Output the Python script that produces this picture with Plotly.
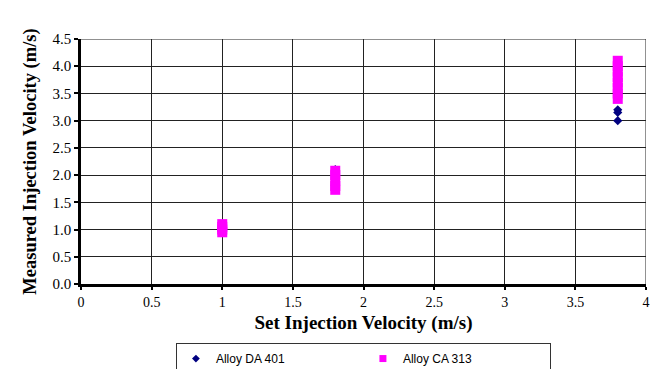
import plotly.graph_objects as go

# Alloy DA 401 measurements
da401_set = [1.8, 3.8, 3.8, 3.8]
da401_measured = [2.1, 3.0, 3.15, 3.2]

# Alloy CA 313 measurements
ca313_set = [1.0, 1.0, 1.0, 1.0,
             1.8, 1.8, 1.8, 1.8, 1.8,
             3.8, 3.8, 3.8, 3.8, 3.8, 3.8, 3.8, 3.8]
ca313_measured = [0.95, 1.0, 1.05, 1.1,
                  1.73, 1.8, 1.9, 2.0, 2.08,
                  3.4, 3.5, 3.6, 3.7, 3.8, 3.9, 4.0, 4.1]

x_ticks = [0, 0.5, 1, 1.5, 2, 2.5, 3, 3.5, 4]
x_tick_labels = ["0", "0.5", "1", "1.5", "2", "2.5", "3", "3.5", "4"]
y_ticks = [0, 0.5, 1, 1.5, 2, 2.5, 3, 3.5, 4, 4.5]
y_tick_labels = ["0.0", "0.5", "1.0", "1.5", "2.0", "2.5", "3.0", "3.5", "4.0", "4.5"]

serif = "Liberation Serif"
sans = "Liberation Sans"
navy = "#000080"
magenta = "#FF00FF"

fig = go.Figure()
fig.add_trace(go.Scatter(
    x=da401_set, y=da401_measured, mode="markers", name="Alloy DA 401",
    marker=dict(symbol="diamond", size=7, color=navy),
    legendgroup="da", showlegend=False,
))
fig.add_trace(go.Scatter(
    x=ca313_set, y=ca313_measured, mode="markers", name="Alloy CA 313",
    marker=dict(symbol="square", size=10, color=magenta),
    legendgroup="ca", showlegend=False,
))
# legend keys with smaller symbols
fig.add_trace(go.Scatter(
    x=[None], y=[None], mode="markers", name="Alloy DA 401",
    marker=dict(symbol="diamond", size=6, color=navy), legendgroup="da",
))
fig.add_trace(go.Scatter(
    x=[None], y=[None], mode="markers", name="Alloy CA 313",
    marker=dict(symbol="square", size=7, color=magenta), legendgroup="ca",
))

fig.update_layout(
    width=660, height=369,
    margin=dict(l=81, r=14, t=39, b=85, autoexpand=False),
    plot_bgcolor="white", paper_bgcolor="white",
    showlegend=True,
    legend=dict(
        orientation="h", x=0.168, xanchor="left", y=-0.241, yanchor="top",
        bordercolor="#333333", borderwidth=1,
        font=dict(family=sans, size=12, color="black"),
        entrywidth=142, entrywidthmode="pixels",
        itemsizing="trace",
    ),
    xaxis=dict(
        range=[0, 4], tickvals=x_ticks, ticktext=x_tick_labels,
        showgrid=True, gridcolor="#222222", gridwidth=1,
        showline=True, linecolor="black", linewidth=2.5,
        ticks="outside", ticklen=3, tickcolor="black", tickwidth=2,
        tickfont=dict(family=serif, size=14, color="black"),
        zeroline=False,
        title=dict(text="<b>Set Injection Velocity (m/s)</b>",
                   font=dict(family=serif, size=19, color="black"), standoff=8),
    ),
    yaxis=dict(
        range=[0, 4.5], tickvals=y_ticks, ticktext=y_tick_labels,
        showgrid=True, gridcolor="#222222", gridwidth=1,
        showline=True, linecolor="black", linewidth=2.5,
        ticks="outside", ticklen=4, tickcolor="black", tickwidth=2,
        tickfont=dict(family=serif, size=15, color="black"),
        zeroline=False,
        title=dict(text="<b>Measured Injection Velocity (m/s)</b>",
                   font=dict(family=serif, size=18.5, color="black"), standoff=12),
    ),
)
fig.add_shape(type="line", xref="x", yref="paper", x0=4, x1=4, y0=0, y1=1,
              line=dict(color="#222222", width=1))
fig.add_shape(type="line", xref="paper", yref="y", x0=0, x1=1, y0=4.5, y1=4.5,
              line=dict(color="#222222", width=1))

fig.write_html("out.html")
